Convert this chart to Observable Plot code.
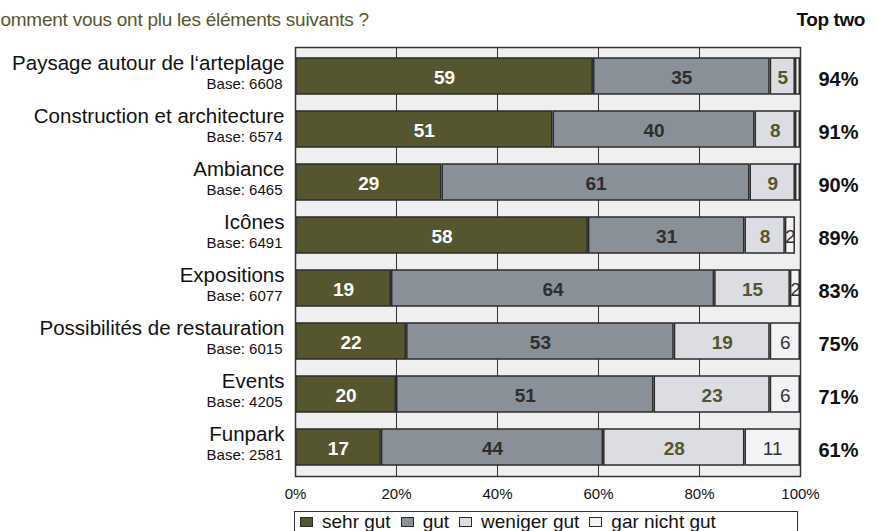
<!DOCTYPE html>
<html>
<head>
<meta charset="utf-8">
<script src="https://cdn.jsdelivr.net/npm/d3@7"></script>
<script src="https://cdn.jsdelivr.net/npm/@observablehq/plot@0.6"></script>
<style>
  body { margin: 0; background: #fff; font-family: "Liberation Sans", Arial, sans-serif; width: 877px; height: 531px; overflow: hidden; position: relative; }
  #title { position: absolute; left: -13px; top: 9px; font-size: 19px; color: #56562f; letter-spacing: -0.25px; white-space: nowrap; }
  #toptwo { position: absolute; right: 12px; top: 9px; font-size: 19px; font-weight: bold; color: #111; letter-spacing: -0.4px; }
  #chart { position: absolute; left: 0; top: 40px; }
  #legend { position: absolute; left: 294px; top: 511px; width: 504px; height: 30px; border: 1.5px solid #333; box-sizing: border-box; display: flex; align-items: flex-start; padding-left: 5px; padding-top: 0px; font-size: 19px; line-height: 19px; color: #111; }
  #legend .it { display: inline-flex; align-items: center; margin-right: 10px; height: 19px; }
  #legend .sw { display: inline-block; width: 11px; height: 8px; border: 1.5px solid #2b2b2b; margin-right: 9px; }
</style>
</head>
<body>
<div id="title">Comment vous ont plu les éléments suivants ?</div>
<div id="toptwo">Top two</div>
<div id="chart"></div>
<div id="legend"></div>
<script>
const categories = [
  "Paysage autour de l‘arteplage",
  "Construction et architecture",
  "Ambiance",
  "Icônes",
  "Expositions",
  "Possibilités de restauration",
  "Events",
  "Funpark"
];
const bases = [6608, 6574, 6465, 6491, 6077, 6015, 4205, 2581];
const series = ["sehr gut", "gut", "weniger gut", "gar nicht gut"];
const sehrGut = [59, 51, 29, 58, 19, 22, 20, 17];
const gut = [35, 40, 61, 31, 64, 53, 51, 44];
const wenigerGut = [5, 8, 9, 8, 15, 19, 23, 28];
const garNichtGut = [1, 1, 1, 2, 2, 6, 6, 11];
const topTwo = [94, 91, 90, 89, 83, 75, 71, 61];
const xTicks = [0, 20, 40, 60, 80, 100];

const colors = ["#55552f", "#8a9097", "#dcdde2", "#f3f3f5"];
const labelColors = ["#ffffff", "#2e2e2e", "#55552f", "#333333"];

const valuesBySeries = [sehrGut, gut, wenigerGut, garNichtGut];
const rows = [];
categories.forEach((c, i) => {
  series.forEach((s, k) => {
    rows.push({ category: c, series: s, k, value: valuesBySeries[k][i] });
  });
});

const stackOpts = (extra) => Plot.stackX({
  x: "value", y: "category", z: "series", order: series, ...extra
});

const labelMark = (k, bold) => Plot.text(rows, stackOpts({
  text: d => (d.k === k && (k < 3 ? d.value >= 5 : d.value >= 2)) ? String(d.value) : "",
  fill: labelColors[k],
  fontWeight: bold ? "bold" : "normal",
  fontSize: 19,
  dy: 1
}));

const chart = Plot.plot({
  width: 877,
  height: 470,
  marginLeft: 295,
  marginRight: 77,
  marginTop: 7,
  marginBottom: 34,
  style: { fontFamily: "'Liberation Sans', Arial, sans-serif", background: "transparent", color: "#111" },
  x: { domain: [0, 100], ticks: xTicks, tickFormat: d => d + "%", label: null, axis: null },
  y: { domain: categories, paddingInner: 0.33, paddingOuter: 0.165, axis: null },
  color: { domain: series, range: colors },
  marks: [
    Plot.frame({ fill: "#efefef" }),
    Plot.gridX(xTicks.slice(1, -1), { stroke: "#333", strokeOpacity: 1, strokeWidth: 1 }),
    Plot.barX(rows, stackOpts({ fill: "series", stroke: "#2b2b2b", strokeWidth: 1.5, insetLeft: 0.75, insetRight: 0.75 })),
    labelMark(0, true),
    labelMark(1, true),
    labelMark(2, true),
    labelMark(3, false),
    Plot.text(categories, { y: d => d, text: d => d, frameAnchor: "left", textAnchor: "end", dx: -11, dy: -13, fontSize: 20.5, fill: "#111" }),
    Plot.text(categories, { y: d => d, text: (d, i) => "Base: " + bases[i], frameAnchor: "left", textAnchor: "end", dx: -13, dy: 8, fontSize: 15, fill: "#111" }),
    Plot.text(categories, { y: d => d, text: (d, i) => topTwo[i] + "%", frameAnchor: "right", textAnchor: "middle", dx: 38, dy: 3, fontWeight: "bold", fontSize: 20, fill: "#111" }),
    Plot.axisX({ ticks: xTicks, tickFormat: d => d + "%", tickSize: 0, tickPadding: 12, fontSize: 15, label: null, fill: "#111" }),
    Plot.frame({ stroke: "#333", strokeWidth: 1.5 })
  ]
});
document.getElementById("chart").appendChild(chart);

const legend = document.getElementById("legend");
series.forEach((s, k) => {
  const it = document.createElement("span");
  it.className = "it";
  const sw = document.createElement("span");
  sw.className = "sw";
  sw.style.background = colors[k];
  it.appendChild(sw);
  it.appendChild(document.createTextNode(s));
  legend.appendChild(it);
});
</script>
</body>
</html>
